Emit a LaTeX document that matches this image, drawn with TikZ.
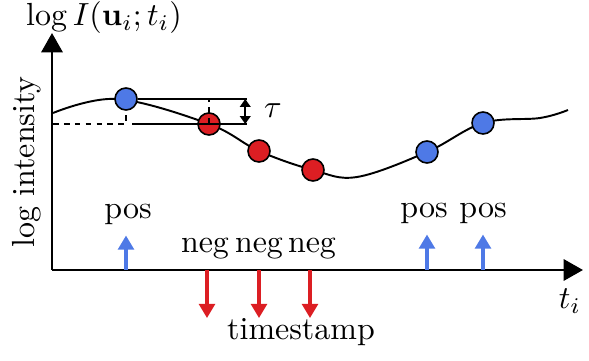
\documentclass[tikz,border=0pt]{standalone}
\usepackage{amsmath}
\usepackage{tikz}
\usetikzlibrary{arrows.meta, positioning}
\definecolor{myblue}{RGB}{78,121,230}
\definecolor{myred}{RGB}{220,30,35}
\tikzset{
  axis/.style={line width=1.7pt, -{Triangle[length=11pt,width=12pt]}},
  lbl/.style={font=\normalsize, scale=1.82},
  posdot/.style={circle, draw=black, fill=myblue, minimum size=0.44cm,
    inner sep=0pt, line width=0.9pt},
  negdot/.style={circle, draw=black, fill=myred, minimum size=0.44cm,
    inner sep=0pt, line width=0.9pt},
  posarrow/.style={-{Triangle[length=8pt,width=9pt]}, line width=1.8pt, color=myblue},
  negarrow/.style={-{Triangle[length=8pt,width=9pt]}, line width=1.8pt, color=myred},
  thr/.style={line width=0.85pt, color=black},
  thrdash/.style={thr, dash pattern=on 3.2pt off 3pt}
}
\begin{document}
\begin{tikzpicture}
  \useasboundingbox (-1.04,-1.82) rectangle (10.74,5.4);
  % Axes
  \coordinate (o) at (0,0);
  \coordinate (ytop) at (0,4.74);
  \coordinate (xend) at (10.62,0);
  \draw[axis] (o) -- (ytop);
  \draw[axis] (o) -- (xend);
  \node[lbl] (ylab) at (1.04,5.04) {$\log I(\mathbf{u}_i;t_i)$};
  \node[lbl, rotate=90] (yname) at (-0.5,2.16) {log intensity};
  \node[lbl] (tlab) at (10.36,-0.62) {$t_i$};
  \node[lbl] (tname) at (4.98,-1.24) {timestamp};
  % Log intensity curve
  \draw[line width=1.1pt] plot[smooth, tension=0.6] coordinates {
    (0.02,3.14) (1.3,3.42) (3.14,2.92) (4.14,2.38) (5.22,2.0) (6.1,1.86)
    (7.5,2.36) (8.62,2.94) (9.76,3.04) (10.32,3.2)};
  % Events on the curve
  \node[posdot] (b1) at (1.48,3.42) {};
  \node[negdot] (r1) at (3.14,2.92) {};
  \node[negdot] (r2) at (4.14,2.38) {};
  \node[negdot] (r3) at (5.22,2.0) {};
  \node[posdot] (b2) at (7.5,2.36) {};
  \node[posdot] (b3) at (8.62,2.94) {};
  % Threshold
  \coordinate (hi) at (3.9,3.42);
  \coordinate (lo) at (3.9,2.92);
  \coordinate (lostart) at (0.02,2.92);
  \coordinate (locorner) at (1.48,2.92);
  \coordinate (lomid) at (1.6,2.92);
  \draw[thr] (b1.east) -- (hi);
  \draw[thrdash] (lostart) -- (locorner) -- (b1.south);
  \draw[thr] (lomid) -- (lo);
  \draw[thrdash] (r1.center) -- (r1 |- hi);
  \draw[line width=1.1pt, {Triangle[length=4.5pt,width=6pt]}-{Triangle[length=4.5pt,width=6pt]}]
    ([xshift=-1pt]hi) -- ([xshift=-1pt]lo);
  \node[lbl] (tau) at (4.42,3.18) {$\tau$};
  % Positive events
  \node[lbl] (p1) at (1.52,1.12) {pos};
  \node[lbl] (p2) at (7.44,1.14) {pos};
  \node[lbl] (p3) at (8.62,1.14) {pos};
  \draw[posarrow] (b1 |- o) -- (b1 |- p1.south);
  \draw[posarrow] (b2 |- o) -- (b2 |- p2.south);
  \draw[posarrow] (b3 |- o) -- (b3 |- p3.south);
  % Negative events
  \node[lbl] (n1) at (3.06,0.42) {neg};
  \node[lbl] (n2) at (4.14,0.42) {neg};
  \node[lbl] (n3) at (5.2,0.42) {neg};
  \coordinate (n1tip) at (3.1,-0.96);
  \coordinate (n2tip) at (4.14,-0.96);
  \coordinate (n3tip) at (5.16,-0.96);
  \draw[negarrow] (n1tip |- o) -- (n1tip);
  \draw[negarrow] (n2tip |- o) -- (n2tip);
  \draw[negarrow] (n3tip |- o) -- (n3tip);
\end{tikzpicture}
\end{document}
